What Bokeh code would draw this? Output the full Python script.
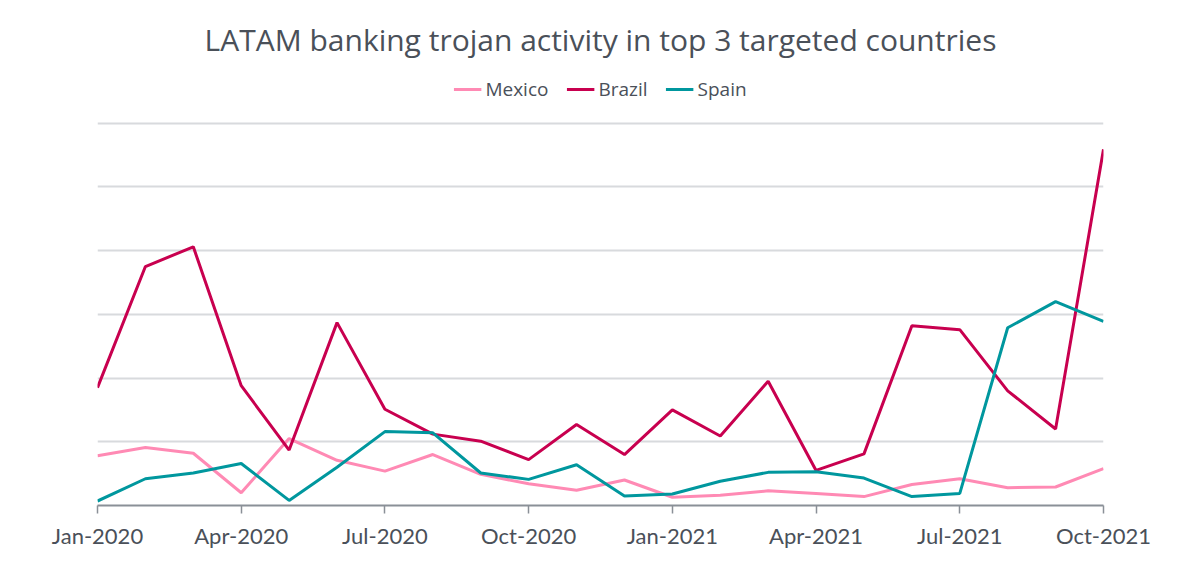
from bokeh.plotting import figure
from bokeh.models import Range1d, FixedTicker, Legend, LegendItem, Title
from bokeh.embed import file_html
from bokeh.resources import INLINE

months = ["Jan-2020", "Feb-2020", "Mar-2020", "Apr-2020", "May-2020", "Jun-2020",
          "Jul-2020", "Aug-2020", "Sep-2020", "Oct-2020", "Nov-2020", "Dec-2020",
          "Jan-2021", "Feb-2021", "Mar-2021", "Apr-2021", "May-2021", "Jun-2021",
          "Jul-2021", "Aug-2021", "Sep-2021", "Oct-2021"]
mexico = [0.78, 0.91, 0.82, 0.20, 1.05, 0.71, 0.54, 0.80, 0.49, 0.34, 0.24, 0.40,
          0.13, 0.16, 0.23, 0.19, 0.14, 0.33, 0.42, 0.28, 0.29, 0.58]
brazil = [1.85, 3.75, 4.06, 1.88, 0.87, 2.87, 1.51, 1.12, 1.01, 0.72, 1.27, 0.80,
          1.50, 1.09, 1.95, 0.55, 0.81, 2.82, 2.76, 1.80, 1.20, 5.59]
spain = [0.07, 0.42, 0.51, 0.66, 0.08, 0.60, 1.16, 1.14, 0.51, 0.41, 0.64, 0.15,
         0.18, 0.38, 0.52, 0.53, 0.43, 0.14, 0.19, 2.79, 3.20, 2.89]
tick_labels = ["Jan-2020", "Apr-2020", "Jul-2020", "Oct-2020",
               "Jan-2021", "Apr-2021", "Jul-2021", "Oct-2021"]
grid_levels = [0, 1, 2, 3, 4, 5, 6]

x = list(range(len(months)))
tick_pos = [months.index(t) for t in tick_labels]

p = figure(width=1184, height=555, output_backend="svg", toolbar_location=None,
           x_range=Range1d(0, len(months) - 1), y_range=Range1d(0, 7),
           min_border_left=97, min_border_right=81, min_border_bottom=50,
           min_border_top=59)
p.outline_line_color = None
p.background_fill_color = "white"
p.border_fill_color = "white"

p.title = Title(text="LATAM banking trojan activity in top 3 targeted countries",
                align="center", text_font="Open Sans", text_font_size="30px",
                text_font_style="normal", text_color="#4a5059", standoff=0,
                offset=0)

l_mx = p.line(x, mexico, line_color="#ff8ab4", line_width=3)
l_br = p.line(x, brazil, line_color="#c8004f", line_width=3)
l_sp = p.line(x, spain, line_color="#00979e", line_width=3)

legend = Legend(items=[LegendItem(label="Mexico", renderers=[l_mx]),
                       LegendItem(label="Brazil", renderers=[l_br]),
                       LegendItem(label="Spain", renderers=[l_sp])],
                orientation="horizontal", location="top_center",
                label_text_font="Open Sans", label_text_font_size="19px",
                label_text_color="#4a5059", glyph_width=28, glyph_height=20,
                label_height=20, label_standoff=4, spacing=18, padding=0,
                margin=17, border_line_color=None, background_fill_alpha=0)
p.add_layout(legend, "center")

p.yaxis.visible = False
p.ygrid.ticker = FixedTicker(ticks=grid_levels)
p.ygrid.grid_line_color = "#d8dadd"
p.ygrid.grid_line_width = 2
p.xgrid.visible = False

ax = p.xaxis[0]
ax.ticker = FixedTicker(ticks=tick_pos)
ax.major_label_overrides = {tp: lab for tp, lab in zip(tick_pos, tick_labels)}
ax.minor_tick_line_color = None
ax.major_tick_in = 0
ax.major_tick_out = 8
ax.major_tick_line_color = "#8a9097"
ax.major_tick_line_width = 1.5
ax.axis_line_color = "#8a9097"
ax.axis_line_width = 2
ax.major_label_text_font = "Lato"
ax.major_label_text_font_size = "22px"
ax.major_label_text_color = "#4a5059"
ax.major_label_standoff = 8

open("out.html", "w").write(file_html(p, INLINE))
